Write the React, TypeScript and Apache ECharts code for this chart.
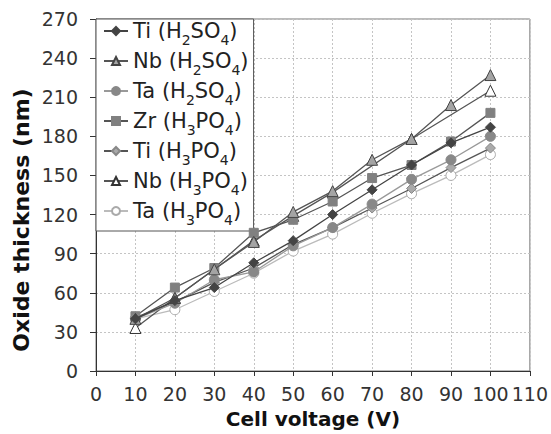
import React, { useEffect, useRef } from "react";
import * as echarts from "echarts";

const voltages = [10, 20, 30, 40, 50, 60, 70, 80, 90, 100];
const tiH2SO4 = [40, 54, 64, 83, 100, 120, 139, 158, 175, 187];
const nbH2SO4 = [40, 56, 78, 99, 122, 138, 162, 178, 204, 227];
const taH2SO4 = [40, 52, 70, 76, 96, 110, 128, 147, 162, 180];
const zrH3PO4 = [42, 64, 79, 106, 116, 130, 148, 158, 176, 198];
const tiH3PO4 = [41, 53, 68, 79, 97, 110, 125, 140, 156, 171];
const nbH3PO4V = [10, 20, 40, 50, 60, 80, 100];
const nbH3PO4 = [33, 56, 100, 119, 137, 178, 215];
const taH3PO4 = [40, 47, 61, 75, 92, 105, 121, 136, 150, 166];
const xTicks = [0, 110, 10];
const yTicks = [0, 270, 30];
const yTitle = "Oxide thickness (nm)";
const xTitle = "Cell voltage (V)";

const pairs = (xs: number[], ys: number[]) => xs.map((x, i) => [x, ys[i]]);

export default function App() {
  const ref = useRef<HTMLDivElement>(null);
  useEffect(() => {
    const chart = echarts.init(ref.current!, undefined, { renderer: "svg" });
    const font = "DejaVu Sans, sans-serif";
    const mk = (
      name: string,
      data: number[][],
      symbol: string,
      size: number,
      lineColor: string,
      fill: string,
      border: string,
      z: number
    ) => ({
      name,
      type: "line",
      data,
      symbol,
      symbolSize: size,
      z,
      lineStyle: { color: lineColor, width: 1.3 },
      itemStyle: { color: fill, borderColor: border, borderWidth: 1 },
    });
    chart.setOption({
      animation: false,
      grid: {
        left: 96,
        right: 19,
        top: 19,
        bottom: 63,
        show: true,
        borderColor: "#777",
        borderWidth: 1,
        backgroundColor: "transparent",
      },
      graphic: [
        {
          type: "text",
          x: 21,
          y: 220,
          rotation: Math.PI / 2,
          style: {
            text: yTitle,
            font: `bold 22px ${font}`,
            fill: "#111",
            align: "center",
            verticalAlign: "middle",
          },
        },
      ],
      xAxis: {
        type: "value",
        min: xTicks[0],
        max: xTicks[1],
        interval: xTicks[2],
        name: xTitle,
        nameLocation: "middle",
        nameGap: 38,
        nameTextStyle: { fontFamily: font, fontSize: 20, fontWeight: "bold", color: "#111" },
        axisLine: { lineStyle: { color: "#333" } },
        axisTick: { length: 5, lineStyle: { color: "#333" } },
        axisLabel: { fontFamily: font, fontSize: 19, color: "#333", margin: 13 },
        splitLine: { lineStyle: { color: "#c4c4c4", type: [2, 2] } },
      },
      yAxis: {
        type: "value",
        min: yTicks[0],
        max: yTicks[1],
        interval: yTicks[2],
        axisLine: { show: true, lineStyle: { color: "#333" } },
        axisTick: { show: true, length: 6, lineStyle: { color: "#333" } },
        axisLabel: { fontFamily: font, fontSize: 19, color: "#333", margin: 18 },
        splitLine: { lineStyle: { color: "#c4c4c4", type: [2, 2] } },
      },
      legend: {
        orient: "vertical",
        left: 96,
        top: 19,
        padding: [0, 5, 4, 7],
        itemGap: 2,
        itemWidth: 24,
        itemHeight: 10,
        backgroundColor: "#fff",
        borderColor: "#555",
        borderWidth: 1,
        borderRadius: 0,
        textStyle: {
          fontFamily: font,
          fontSize: 21,
          color: "#222",
          lineHeight: 24,
          rich: {
            sub: { fontFamily: font, fontSize: 14, color: "#222", lineHeight: 14, verticalAlign: "bottom", padding: [0, 0, -4, 0] },
          },
        },
        formatter: (n: string) => n.replace(/H(\d)(SO|PO)(\d)/, "H{sub|$1}$2{sub|$3}"),
      },
      series: [
        mk("Ti (H2SO4)", pairs(voltages, tiH2SO4), "diamond", 10, "#444", "#444", "#444", 7),
        mk("Nb (H2SO4)", pairs(voltages, nbH2SO4), "triangle", 11, "#555", "#a4a4a4", "#444", 6),
        mk("Ta (H2SO4)", pairs(voltages, taH2SO4), "circle", 10, "#999", "#888", "#888", 5),
        mk("Zr (H3PO4)", pairs(voltages, zrH3PO4), "rect", 9, "#555", "#808080", "#808080", 4),
        mk("Ti (H3PO4)", pairs(voltages, tiH3PO4), "diamond", 10, "#555", "#aaa", "#888", 3),
        mk("Nb (H3PO4)", pairs(nbH3PO4V, nbH3PO4), "triangle", 11, "#555", "#fff", "#333", 2),
        mk("Ta (H3PO4)", pairs(voltages, taH3PO4), "circle", 10, "#bbb", "#fff", "#aaa", 1),
      ],
    });
    return () => chart.dispose();
  }, []);
  return <div ref={ref} style={{ width: 551, height: 434, position: "absolute", left: 0, top: 0, background: "#fff" }} />;
}
